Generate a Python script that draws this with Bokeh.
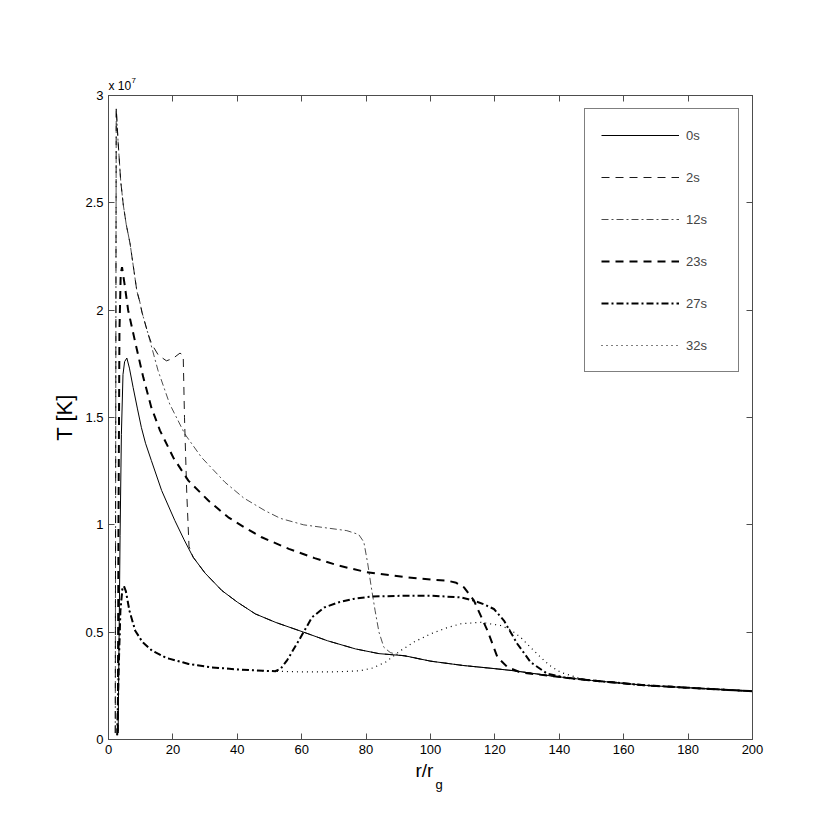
from bokeh.plotting import figure
from bokeh.models import (Range1d, FixedTicker, LinearAxis, Legend, LegendItem, Title,
                          CustomJSTickFormatter)
from bokeh.embed import file_html
from bokeh.resources import INLINE

# ---- data (T in units of 1e7 K) ----
tail_r = [150, 167, 185, 200]
tail_T = [0.275, 0.252, 0.237, 0.225]

r_0s = [3.0, 3.3, 3.6, 4.0, 4.5, 5.0, 5.7, 6.5, 7.65, 9.0, 10.2, 11.5, 13.3, 16.5, 20.6, 23.5, 26.3, 30,
        35.2, 40, 45.6, 52, 60.6, 68, 76.7, 84, 92, 100, 110, 120, 126, 138] + tail_r
T_0s = [0.04, 0.5, 0.95, 1.42, 1.7, 1.76, 1.777, 1.73, 1.64, 1.54, 1.454, 1.38, 1.30, 1.16, 1.02, 0.93,
        0.849, 0.775, 0.694, 0.64, 0.585, 0.545, 0.50, 0.46, 0.422, 0.40, 0.39, 0.365, 0.345, 0.33, 0.32,
        0.295] + tail_T

r_2s = [2.1, 2.25, 2.4, 3.0, 3.8, 4.6, 5.5, 6.7, 8.8, 9.7, 10.4, 12.3, 13.5, 15.5, 18, 20, 22.2, 23.2,
        23.6, 24.3, 25.0, 26.3, 30, 35.2, 40, 45.6, 52, 60.6, 68, 76.7, 84, 92, 100, 110, 120, 126,
        138] + tail_r
T_2s = [0.03, 1.5, 2.94, 2.78, 2.6, 2.49, 2.4, 2.31, 2.09, 2.04, 1.99, 1.889, 1.84, 1.79, 1.764, 1.775,
        1.80, 1.79, 1.5, 1.15, 0.9, 0.849, 0.775, 0.694, 0.64, 0.585, 0.545, 0.50, 0.46, 0.422, 0.40,
        0.39, 0.365, 0.345, 0.33, 0.32, 0.295] + tail_T

r_12s = [2.1, 2.25, 2.4, 3.0, 3.8, 4.6, 5.5, 6.7, 8.8, 9.7, 10.4, 12.3, 15.4, 19, 23.7, 28.9, 36.2, 42,
         48.6, 53.4, 60.6, 68, 74, 77.7, 79.3, 80.5, 81.5, 82.8, 84, 85.5, 87.5, 90, 100, 110, 120,
         126, 138] + tail_r
T_12s = [0.03, 1.5, 2.94, 2.78, 2.6, 2.49, 2.4, 2.31, 2.09, 2.04, 1.99, 1.889, 1.718, 1.563, 1.423,
         1.314, 1.198, 1.125, 1.066, 1.03, 1.0, 0.985, 0.973, 0.955, 0.92, 0.82, 0.72, 0.6, 0.5, 0.43,
         0.405, 0.395, 0.365, 0.345, 0.33, 0.32, 0.295] + tail_T

r_23s = [2.9, 3.1, 3.4, 3.8, 4.2, 5.0, 6.1, 8.2, 10.8, 13.3, 16, 20.1, 24.8, 31, 37.2, 42, 47.6, 56,
         64, 71.5, 80, 84.5, 92.3, 100, 105.2, 108, 110.4, 113.5, 117.7, 120.8, 123.9, 128, 138] + tail_r
T_23s = [0.03, 1.0, 1.9, 2.17, 2.2, 2.12, 2.0, 1.857, 1.687, 1.547, 1.439, 1.314, 1.206, 1.113, 1.035,
         0.99, 0.942, 0.888, 0.845, 0.81, 0.78, 0.771, 0.756, 0.745, 0.74, 0.73, 0.709, 0.647, 0.507,
         0.383, 0.337, 0.312, 0.295] + tail_T

r_27s = [2.7, 3.2, 3.7, 4.3, 4.8, 5.4, 6.5, 8.3, 10.5, 13.5, 18, 24.9, 32, 40.4, 48, 51.8, 53.5, 55.5,
         59.1, 63.2, 67, 71.5, 76, 81.9, 92.3, 100, 109.4, 113.5, 116.5, 119.7, 122.8, 127, 131.1, 136.3,
         142] + tail_r
T_27s = [0.02, 0.35, 0.6, 0.7, 0.715, 0.69, 0.6, 0.507, 0.455, 0.414, 0.38, 0.352, 0.336, 0.326, 0.32,
         0.318, 0.33, 0.37, 0.461, 0.569, 0.615, 0.639, 0.655, 0.666, 0.67, 0.67, 0.662, 0.647, 0.63, 0.608,
         0.554, 0.445, 0.36, 0.306, 0.288] + tail_T

r_32s = [2.7, 3.2, 3.7, 4.3, 4.8, 5.4, 6.5, 8.3, 10.5, 13.5, 18, 24.9, 32, 40.4, 48, 51.8, 60, 70, 78,
         82, 86, 90.7, 95, 100, 105, 109.4, 115.6, 121.8, 125, 128, 131, 134.2, 137, 140.4, 146.7] + tail_r
T_32s = [0.02, 0.35, 0.6, 0.7, 0.715, 0.69, 0.6, 0.507, 0.455, 0.414, 0.38, 0.352, 0.336, 0.326, 0.32,
         0.318, 0.315, 0.315, 0.32, 0.333, 0.36, 0.414, 0.455, 0.492, 0.52, 0.539, 0.546, 0.531, 0.51,
         0.476, 0.43, 0.383, 0.345, 0.313, 0.283] + tail_T

labels = ["0s", "2s", "12s", "23s", "27s", "32s"]
x_ticks = [0, 20, 40, 60, 80, 100, 120, 140, 160, 180, 200]
y_ticks = [0, 0.5, 1, 1.5, 2, 2.5, 3]
y_tick_labels = ["0", "0.5", "1", "1.5", "2", "2.5", "3"]

FONT = "Liberation Sans"
AX = "#4d4d4d"

p = figure(width=822, height=824, output_backend="svg", toolbar_location=None,
           x_range=Range1d(0, 200), y_range=Range1d(0, 3),
           min_border_left=108, min_border_right=70, min_border_top=95, min_border_bottom=85)
p.grid.visible = False
p.outline_line_color = AX
p.outline_line_width = 1
p.background_fill_color = "white"
p.border_fill_color = "white"

def style_axis(ax, show_labels):
    ax.axis_line_color = AX
    ax.axis_line_width = 1
    ax.major_tick_line_color = AX
    ax.major_tick_in = 6
    ax.major_tick_out = 0
    ax.minor_tick_line_color = None
    ax.minor_tick_out = 0
    ax.minor_tick_in = 0
    ax.major_label_text_font = FONT
    ax.major_label_text_color = "black"
    if show_labels:
        ax.major_label_text_font_size = "13px"
        ax.major_label_standoff = 5
    else:
        ax.major_label_text_font_size = "0px"
        ax.major_label_standoff = 0
        ax.formatter = CustomJSTickFormatter(code="return ''")

p.xaxis.ticker = FixedTicker(ticks=x_ticks)
p.yaxis.ticker = FixedTicker(ticks=y_ticks)
p.yaxis.major_label_overrides = {t: s for t, s in zip(y_ticks, y_tick_labels)}
style_axis(p.xaxis[0], True)
style_axis(p.yaxis[0], True)
p.yaxis.axis_label = "T [K]"
p.yaxis.axis_label_text_font = FONT
p.yaxis.axis_label_text_font_size = "22px"
p.yaxis.axis_label_text_font_style = "normal"
p.yaxis.axis_label_text_color = "black"
p.yaxis.axis_label_standoff = 5

top = LinearAxis(ticker=FixedTicker(ticks=x_ticks))
style_axis(top, False)
p.add_layout(top, "above")
right = LinearAxis(ticker=FixedTicker(ticks=y_ticks))
style_axis(right, False)
p.add_layout(right, "right")

series = [
    (r_0s, T_0s, dict(line_width=1.0, line_dash="solid")),
    (r_2s, T_2s, dict(line_width=0.9, line_dash="8 6")),
    (r_12s, T_12s, dict(line_width=0.7, line_dash="7 3 2 3")),
    (r_23s, T_23s, dict(line_width=2.0, line_dash="8 6")),
    (r_27s, T_27s, dict(line_width=2.0, line_dash="7 3 2 3")),
    (r_32s, T_32s, dict(line_width=1.2, line_dash="1 4")),
]
items = []
for (rx, ty, st), lab in zip(series, labels):
    rend = p.line(rx, ty, line_color="black", **st)
    items.append(LegendItem(label=lab, renderers=[rend]))

legend = Legend(items=items, location="top_right", margin=13, padding=16,
                glyph_width=78, glyph_height=20, label_height=20, label_width=36,
                spacing=22, label_standoff=7,
                label_text_font=FONT, label_text_font_size="13px",
                border_line_color="black", border_line_width=1,
                background_fill_color="white", background_fill_alpha=1.0)
p.add_layout(legend, "center")

# axis label r/r_g (below) and the x 10^7 multiplier (above), as titles in side panels
def title(text, size, offset, standoff, valign, side):
    p.add_layout(Title(text=text, align="left", offset=offset, standoff=standoff,
                       vertical_align=valign, text_font=FONT, text_font_size=size,
                       text_font_style="normal", text_color="black"), side)

title("r/r", "19px", 307, 2, "bottom", "below")
title("g", "13px", 327, -9, "top", "below")
title("x 10", "12px", 0, 2, "top", "above")
title("7", "8px", 23, -10, "bottom", "above")

open("out.html", "w").write(file_html(p, INLINE))
